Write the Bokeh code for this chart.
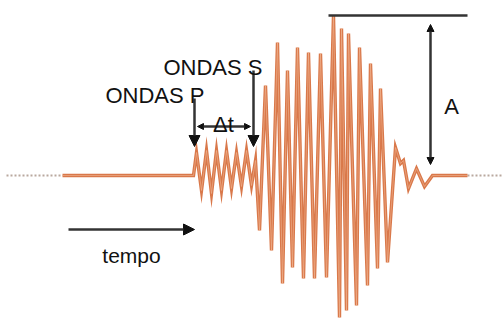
from bokeh.plotting import figure
from bokeh.models import Range1d, Arrow, NormalHead, Label
from bokeh.embed import file_html
from bokeh.resources import INLINE

# Seismogram trace (pixel-like coordinates, y grows downward)
lead_dot_x = [6, 62]
lead_dot_y = [175, 175]
wave_x = [62, 193, 196, 201, 206, 211, 216, 221, 226, 231, 236, 241, 246, 251, 255,
          259, 265, 271, 277, 282, 287, 292, 297, 303, 308, 314, 320, 326, 333,
          339, 341, 346, 348, 356, 359, 367, 370, 377, 380, 387, 395,
          400, 403, 408, 416, 424, 432, 467]
wave_y = [175, 175, 152, 190, 150, 193, 150, 190, 150, 188, 152, 186, 150, 185, 160,
          230, 85, 250, 42, 283, 70, 267, 47, 278, 52, 278, 53, 277, 15,
          317, 28, 310, 33, 305, 47, 285, 63, 268, 88, 262, 147,
          163, 160, 188, 168, 186, 175, 175]
tail_dot_x = [467, 502]
tail_dot_y = [175, 175]

labels = ["ONDAS S", "ONDAS P", "Δt", "A", "tempo"]

p = figure(width=504, height=318, output_backend="svg", toolbar_location=None,
           x_range=Range1d(0, 504), y_range=Range1d(318, 0),
           min_border=0, min_border_left=0, min_border_right=0,
           min_border_top=0, min_border_bottom=0)
p.axis.visible = False
p.grid.visible = False
p.outline_line_color = None
p.background_fill_color = "white"
p.border_fill_color = "white"

p.line(lead_dot_x, lead_dot_y, line_color="#b9a89e", line_width=2, line_dash="2 2")
p.line(tail_dot_x, tail_dot_y, line_color="#b9a89e", line_width=2, line_dash="2 2")
p.line(wave_x, wave_y, line_color="#d9784a", line_width=3.4, line_join="miter")
p.line(wave_x, wave_y, line_color="#f2b895", line_width=1, line_join="miter", line_alpha=0.6)

dark = "#333333"
def arrow(x0, y0, x1, y1, start=False, size=9):
    p.add_layout(Arrow(x_start=x0, y_start=y0, x_end=x1, y_end=y1,
                       line_color=dark, line_width=2.5,
                       end=NormalHead(size=size, fill_color="#111111", line_color="#111111"),
                       start=NormalHead(size=size, fill_color="#111111", line_color="#111111") if start else None))

# P and S arrival arrows
arrow(194, 98, 194, 146, size=11)
arrow(253, 70, 253, 146, size=11)
# delta t
arrow(197, 126, 250, 126, start=True, size=6)
# amplitude
p.line([328, 467], [15, 15], line_color=dark, line_width=2.5)
arrow(430, 24, 430, 164, start=True, size=7)
# tempo
arrow(68, 229, 194, 229, size=11)

font = "Liberation Sans"
def lab(x, y, t, size="22px", align="left"):
    p.add_layout(Label(x=x, y=y, text=t, text_font=font, text_font_size=size,
                       text_color="#111111", text_align=align, text_baseline="alphabetic"))

lab(262, 67, labels[0], align="right")
lab(204, 95, labels[1], align="right")
lab(223, 124, labels[2], align="center")
lab(451, 106, labels[3], align="center")
lab(131, 255, labels[4], size="21px", align="center")

open("out.html", "w").write(file_html(p, INLINE))
